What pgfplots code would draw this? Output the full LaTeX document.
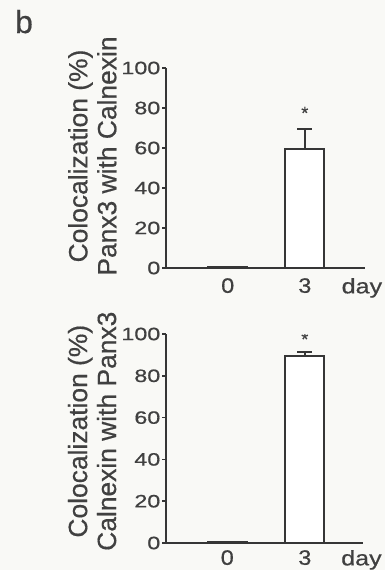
\documentclass[border=0pt]{standalone}
\usepackage{graphicx}
\usepackage{pgfplots}
\pgfplotsset{compat=1.18}
\usepackage{fontspec}
\setmainfont{Liberation Sans}[FakeBold=0.5]
\definecolor{ink}{HTML}{363636}
\definecolor{txt}{HTML}{404040}
\definecolor{bg}{HTML}{F9F9F6}

\newcommand{\ytl}[1]{\fontsize{18}{18}\selectfont\scalebox{1.3}[1]{#1}}
\newcommand{\xtl}[2]{\fontsize{21}{21}\selectfont\scalebox{#1}[1]{#2}}

\pgfplotsset{
  panel/.style={
    scale only axis,
    axis x line=bottom, axis y line=left,
    axis line style={-, ink, line width=2.4bp},
    ymin=0, ymax=100,
    ytick={0,20,40,60,80,100},
    yticklabel={\ytl{\pgfmathprintnumber{\tick}}},
    xtick={0,1,1.74},
    xticklabels={\xtl{1.12}{0},\xtl{1.12}{3},\xtl{1.2}{day}},
    x tick style={draw=none},
    y tick style={ink, line width=1.5bp},
    tick align=outside, major tick length=4bp,
    /pgf/number format/assume math mode=true,
    yticklabel style={text=txt, inner sep=1.5bp},
    xticklabel style={text=txt, inner sep=0bp, yshift=-6bp},
    ylabel style={font=\fontsize{26.5}{29}\selectfont, text=txt, align=center, anchor=center},
  },
  zerobar/.style={ybar, bar shift=0pt, bar width=40bp, fill=ink, draw=ink, line width=1.2bp},
  mainbar/.style={ybar, bar shift=0pt, bar width=39bp, fill=white, draw=ink, line width=2.2bp,
    error bars/.cd, y dir=plus, y explicit,
    error bar style={ink, line width=2.4bp},
    error mark options={rotate=90, mark size=7.5bp, line width=2.4bp, ink}},
}

\begin{document}
\begin{tikzpicture}
\fill[bg, use as bounding box] (0,0) rectangle (385bp,-570bp);
\node[anchor=base, text=txt, font=\fontsize{32}{32}\selectfont] at (24bp,-33bp) {b};

% top panel
\begin{axis}[panel, at={(166bp,-268bp)}, anchor=south west,
  width=199bp, height=200bp, xmin=-0.80, xmax=1.78,
  ylabel={Colocalization (\%)\\Panx3 with Calnexin},
  ylabel style={at={(axis description cs:-0.37,0.56)}}]
\addplot[zerobar] coordinates {(0,0.6)};
\addplot[mainbar] coordinates {(1,59.5) +- (0,10)};
\node[text=txt, font=\fontsize{18}{18}\selectfont] at (axis cs:1,77.5) {*};
\end{axis}

% bottom panel
\begin{axis}[panel, at={(166bp,-543bp)}, anchor=south west,
  width=197bp, height=209bp, xmin=-0.79, xmax=1.75,
  xtick={0,1,1.73},
  xticklabel style={yshift=3bp},
  ylabel={Colocalization (\%)\\Calnexin with Panx3},
  ylabel style={at={(axis description cs:-0.375,0.535)}}]
\addplot[zerobar] coordinates {(0,0.6)};
\addplot[mainbar] coordinates {(1,89.5) +- (0,2)};
\node[text=txt, font=\fontsize{18}{18}\selectfont] at (axis cs:1,97.5) {*};
\end{axis}
\end{tikzpicture}
\end{document}
